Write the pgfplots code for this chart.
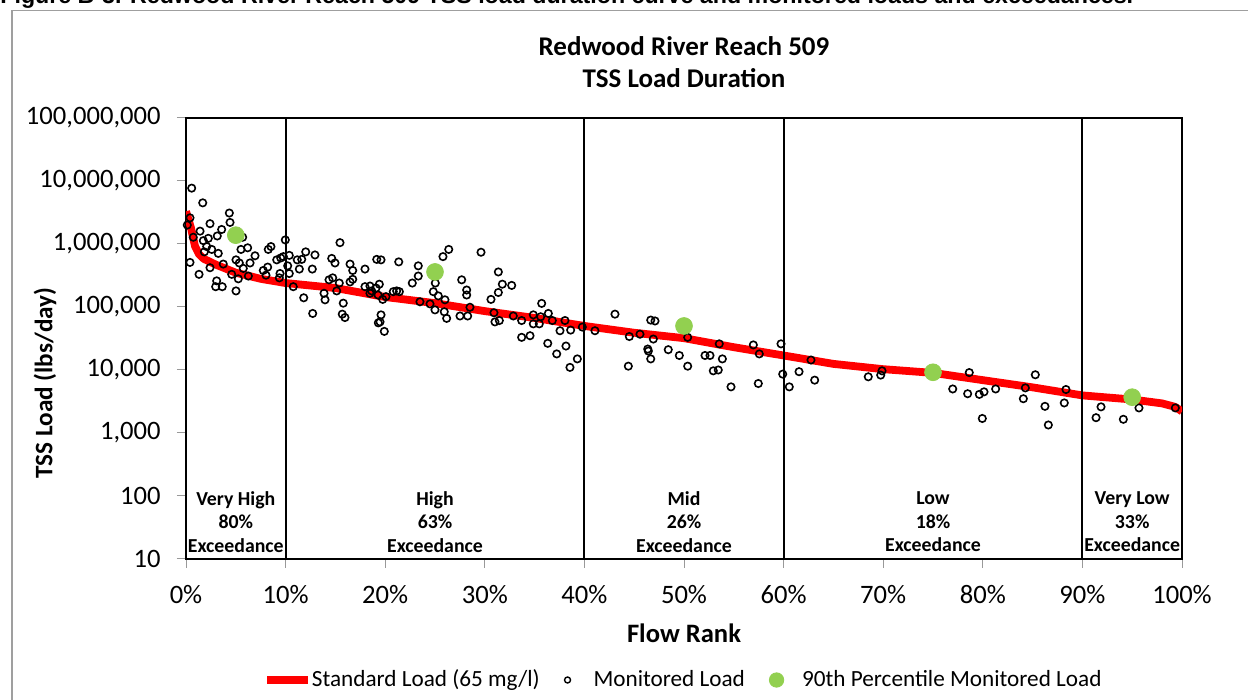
\documentclass[border=0pt]{standalone}
\usepackage{fontspec}
\setmainfont{Carlito}
\newfontfamily\capfont{Liberation Sans}
\usepackage{pgfplots}
\pgfplotsset{compat=1.18}
\usepackage{pgfplotstable}
\definecolor{pgreen}{HTML}{92D050}
\tikzset{zone/.style={align=center, anchor=center, font=\bfseries\fontsize{9.9pt}{11.75pt}\selectfont}}

\pgfplotstableread{
p v
0.57 7700000
1.68 4500000
4.35 3100000
0.40 2600000
0.13 2000000
4.42 2200000
2.41 2100000
1.41 1600000
3.58 1700000
3.14 1340000
0.73 1280000
1.74 1130000
2.24 1230000
5.69 1280000
2.08 910000
2.58 820000
5.52 820000
6.19 870000
3.24 710000
1.84 750000
6.93 650000
5.02 560000
5.35 500000
6.43 500000
0.40 510000
3.74 480000
2.41 420000
5.75 410000
4.59 330000
6.26 310000
1.31 330000
5.25 280000
3.08 260000
2.98 210000
3.64 210000
5.02 180000
7.76 380000
8.20 430000
8.26 820000
8.53 910000
9.11 560000
9.51 600000
9.77 630000
9.97 1160000
10.37 660000
10.21 450000
9.44 340000
9.37 290000
10.37 340000
8.03 320000
10.77 210000
11.17 560000
11.38 400000
12.02 750000
11.62 570000
12.95 670000
12.68 400000
11.82 140000
12.72 79000
15.46 1050000
14.63 590000
14.96 500000
16.47 480000
16.74 380000
17.97 400000
19.15 570000
14.36 270000
14.73 290000
15.39 240000
15.13 180000
13.86 165000
13.96 130000
15.79 115000
15.69 77000
15.96 68000
16.47 250000
16.74 275000
17.97 210000
18.47 215000
18.64 180000
19.08 200000
19.28 155000
18.47 165000
19.31 56000
19.58 560000
21.36 520000
23.32 450000
22.72 240000
23.32 310000
25.80 630000
26.38 820000
29.62 740000
25.03 240000
24.83 175000
25.33 150000
26.00 130000
25.93 84000
26.17 66000
25.00 90000
24.50 112000
23.49 121000
27.51 72000
28.28 72000
28.51 99000
27.68 270000
28.18 186000
28.18 155000
31.36 360000
31.76 230000
32.70 220000
31.36 170000
30.62 132000
30.92 81000
31.02 58000
31.46 61000
32.86 72000
33.70 61000
33.70 33000
34.54 35000
35.71 114000
34.87 75000
34.87 54000
35.47 54000
35.61 70000
36.38 79000
36.78 61000
38.05 61000
37.55 42000
38.62 43000
36.32 26500
37.22 18000
38.15 24000
38.55 11000
39.29 15000
39.79 48000
19.41 230000
19.75 132000
20.08 146000
20.81 175000
21.15 180000
21.42 175000
19.58 75000
19.48 58000
19.91 41000
43.07 77000
46.66 62000
47.09 60000
41.06 42000
44.51 34000
45.58 37000
46.92 31000
46.36 21500
46.42 20000
46.66 15000
48.42 21000
49.53 17000
50.37 33000
50.37 11500
44.41 11500
52.11 17000
52.61 17000
53.54 26000
53.85 15000
52.94 9700
53.44 10000
54.72 5400
56.96 25000
57.56 18000
57.46 6100
59.74 26000
59.91 8600
60.57 5400
61.55 9400
62.75 14400
63.12 6900
68.50 7800
69.75 8300
69.88 9700
76.98 5000
78.64 9100
78.48 4200
79.65 4100
80.12 4500
81.29 5000
79.95 1700
84.07 3500
84.27 5200
85.27 8400
86.24 2650
86.58 1340
88.18 3000
88.35 4900
91.87 2600
91.37 1750
94.11 1650
95.68 2500
99.33 2500
}\monitored

\pgfplotstableread{
p v
0 3300000
0.5 1800000
0.9 930000
1.3 690000
1.8 580000
3 470000
5 350000
7.5 280000
10 240000
15 200000
20 144000
25 115000
30 86000
35 67000
40 50000
45 39000
50 32000
55 23000
60 17000
65 12500
70 10300
75 9000
80 6900
85 5300
90 3950
95 3400
98 2950
99.3 2600
100 2200
}\standard

\pgfplotstableread{
p v
5 1380000
25 360000
50 50000
75 9200
95 3700
}\pctl

\begin{document}
\begin{tikzpicture}
\path[use as bounding box] (0,0) rectangle (624pt,350pt);
\clip (0,0) rectangle (624pt,350pt);
\draw[gray!75, line width=0.6pt] (6pt,344.75pt) rectangle (640pt,-10pt);
\node[anchor=base west, inner sep=0pt, font=\capfont\bfseries\fontsize{11.6pt}{14pt}\selectfont] at (0pt,348pt) {Figure B-3. Redwood River Reach 509 TSS load duration curve and monitored loads and exceedances.};
\begin{axis}[
  at={(93pt,70.5pt)}, anchor=south west,
  scale only axis, width=498pt, height=220.5pt,
  xmin=0, xmax=100, ymin=10, ymax=1e8, ymode=log,
  axis line style={black, line width=1pt},
  tick style={gray!80, line width=0.5pt},
  major tick length=4.5pt, tick align=outside,
  xtick pos=bottom, ytick pos=left,
  yminorticks=false,
  xtick={0,10,20,30,40,50,60,70,80,90,100},
  xticklabels={0\%,10\%,20\%,30\%,40\%,50\%,60\%,70\%,80\%,90\%,100\%},
  ytick={10,100,1000,10000,100000,1000000,10000000,100000000},
  yticklabels={10,100,{1,000},{10,000},{100,000},{1,000,000},{10,000,000},{100,000,000}},
  yticklabel style={font=\fontsize{13.3pt}{15pt}\selectfont, anchor=east, inner sep=0pt, xshift=-8pt},
  xticklabel style={font=\fontsize{13.3pt}{15pt}\selectfont, anchor=north, inner sep=0pt, yshift=-8.5pt},
  title={Redwood River Reach 509\\TSS Load Duration},
  title style={at={(axis description cs:0.5,1)}, anchor=center, yshift=22pt, align=center, font=\bfseries\fontsize{13.5pt}{16pt}\selectfont},
  xlabel={Flow Rank},
  xlabel style={at={(axis description cs:0.5,-0.1678)}, anchor=center, font=\bfseries\fontsize{13.3pt}{15pt}\selectfont},
  ylabel={TSS Load (lbs/day)},
  ylabel style={at={(axis description cs:-0.1416,0.399)}, anchor=center, font=\bfseries\fontsize{12.6pt}{15pt}\selectfont},
  legend columns=3,
  legend style={at={(axis description cs:0.4985,-0.2744)}, anchor=center, draw=none, fill=none,
    font=\fontsize{11.6pt}{14pt}\selectfont, nodes={inner sep=0pt},
    /tikz/every even column/.append style={column sep=12pt}},
]
\addplot[red, line width=3.9pt, line join=round,
  legend image code/.code={\draw[red, line width=3.7pt] (0pt,0pt) -- (20.5pt,0pt); \path[draw=none] (21pt,0pt) circle (0.1pt);}]
  table[x=p, y=v] {\standard};
\addlegendentry{Standard Load (65 mg/l)}
\addplot[black, line width=1pt, forget plot] coordinates {(10,10) (10,1e8)};
\addplot[black, line width=1pt, forget plot] coordinates {(40,10) (40,1e8)};
\addplot[black, line width=1pt, forget plot] coordinates {(60,10) (60,1e8)};
\addplot[black, line width=1pt, forget plot] coordinates {(90,10) (90,1e8)};
\addplot[only marks, mark=o, mark size=1.85pt, mark options={black, line width=0.8pt},
  legend image code/.code={\path[draw=none, fill=none] (12.6pt,-1pt) rectangle (13pt,1pt); \draw[black, line width=0.7pt, fill=none] (0pt,0pt) circle (1.5pt);}]
  table[x=p, y=v] {\monitored};
\addlegendentry{Monitored Load}
\addplot[only marks, mark=*, mark size=4.2pt, mark options={pgreen, draw=pgreen},
  legend image code/.code={\path[draw=none, fill=none] (12.3pt,-1pt) rectangle (12.8pt,1pt); \fill[pgreen] (0pt,0pt) circle (3.6pt);}]
  table[x=p, y=v] {\pctl};
\addlegendentry{90th Percentile Monitored Load}
\node[zone] at (axis cs:5,38.6) {Very High\\80\%\\Exceedance};
\node[zone] at (axis cs:25,38.6) {High\\63\%\\Exceedance};
\node[zone] at (axis cs:50,38.6) {Mid\\26\%\\Exceedance};
\node[zone] at (axis cs:75,38.6) {Low\\18\%\\Exceedance};
\node[zone] at (axis cs:95,38.6) {Very Low\\33\%\\Exceedance};
\end{axis}
\end{tikzpicture}
\end{document}
